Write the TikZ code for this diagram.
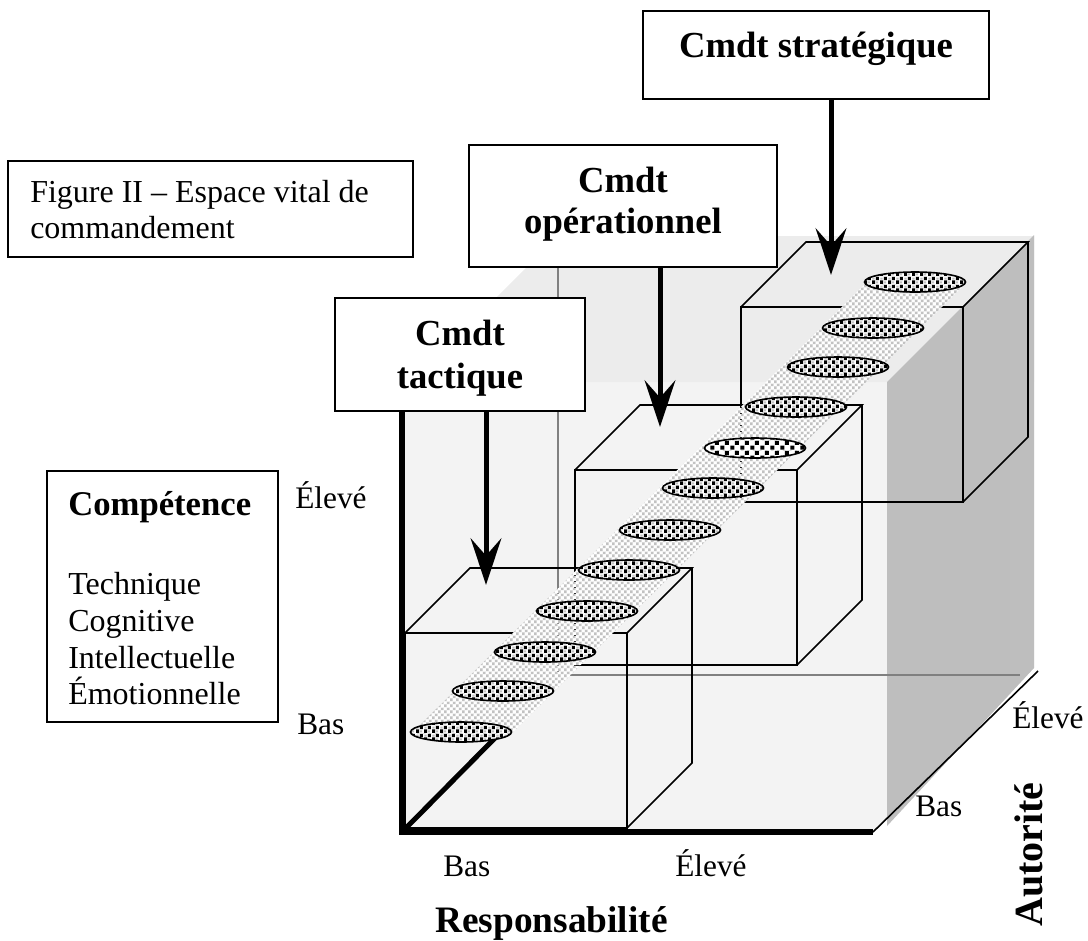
\documentclass[tikz,border=0pt]{standalone}
\usepackage{fontspec}
\setmainfont{Liberation Serif}
\usetikzlibrary{arrows.meta,patterns,shapes.geometric}

\definecolor{wallhi}{HTML}{ECECEC}
\definecolor{walllo}{HTML}{F3F3F3}
\definecolor{walldk}{HTML}{BEBEBE}
\definecolor{edgegray}{HTML}{808080}
\definecolor{dotgray}{HTML}{C2C2C2}

\pgfdeclarepatterninherentlycolored{bandpat}{\pgfpointorigin}{\pgfpoint{4.5pt}{4.5pt}}{\pgfpoint{4.5pt}{4.5pt}}{%
  \pgfsetfillcolor{white}%
  \pgfpathrectangle{\pgfpointorigin}{\pgfpoint{4.5pt}{4.5pt}}\pgfusepath{fill}%
  \pgfsetfillcolor{dotgray}%
  \pgfpathrectangle{\pgfpoint{0.2pt}{0.2pt}}{\pgfpoint{2pt}{2pt}}%
  \pgfpathrectangle{\pgfpoint{2.45pt}{2.45pt}}{\pgfpoint{2pt}{2pt}}%
  \pgfusepath{fill}}

\pgfdeclarepatterninherentlycolored{ellpat}{\pgfpointorigin}{\pgfpoint{6pt}{6pt}}{\pgfpoint{6pt}{6pt}}{%
  \pgfsetfillcolor{white}%
  \pgfpathrectangle{\pgfpointorigin}{\pgfpoint{6pt}{6pt}}\pgfusepath{fill}%
  \pgfsetfillcolor{dotgray}%
  \pgfpathrectangle{\pgfpoint{3.4pt}{0.5pt}}{\pgfpoint{1.7pt}{1.7pt}}%
  \pgfpathrectangle{\pgfpoint{0.4pt}{3.5pt}}{\pgfpoint{1.7pt}{1.7pt}}%
  \pgfusepath{fill}%
  \pgfsetfillcolor{black}%
  \pgfpathrectangle{\pgfpoint{0.2pt}{0.1pt}}{\pgfpoint{2.5pt}{2.8pt}}%
  \pgfpathrectangle{\pgfpoint{3.2pt}{3.1pt}}{\pgfpoint{2.5pt}{2.8pt}}%
  \pgfusepath{fill}}

\pgfdeclarepatterninherentlycolored{ellpatb}{\pgfpointorigin}{\pgfpoint{7.5pt}{7.5pt}}{\pgfpoint{7.5pt}{7.5pt}}{%
  \pgfsetfillcolor{white}%
  \pgfpathrectangle{\pgfpointorigin}{\pgfpoint{7.5pt}{7.5pt}}\pgfusepath{fill}%
  \pgfsetfillcolor{black}%
  \pgfpathrectangle{\pgfpoint{0.3pt}{0.3pt}}{\pgfpoint{3.2pt}{3.2pt}}%
  \pgfpathrectangle{\pgfpoint{4.05pt}{4.05pt}}{\pgfpoint{3.2pt}{3.2pt}}%
  \pgfusepath{fill}}

\newcommand\mycube[2]{%
  \draw[cubeline] (#1,#2) rectangle (#1+222,#2+195);
  \draw[cubeline] (#1,#2) -- (#1+65,#2-65) -- (#1+287,#2-65) -- (#1+222,#2);
  \draw[cubeline] (#1+287,#2-65) -- (#1+287,#2+130) -- (#1+222,#2+195);
}

\begin{document}
\begin{tikzpicture}[x=0.75pt,y=-0.75pt,
  box/.style={draw, fill=white, line width=1.2pt, inner sep=0pt, outer sep=0pt, rectangle},
  bt/.style={inner sep=0pt, font=\fontsize{27.5pt}{33pt}\selectfont\bfseries},
  cb/.style={inner sep=0pt, font=\fontsize{26pt}{31pt}\selectfont\bfseries},
  lab/.style={inner sep=0pt, font=\fontsize{23.5pt}{28pt}\selectfont},
  txt/.style={inner sep=0pt, font=\fontsize{24pt}{29pt}\selectfont},
  cubeline/.style={line width=1.2pt, line join=miter},
  greyedge/.style={draw=edgegray, line width=1.1pt},
  arr/.style={line width=3.75pt, -{Stealth[length=35pt, width=23pt, inset=13pt]}},
  ell/.style={ellipse, draw, line width=1.2pt, minimum width=75.75pt, minimum height=15pt, inner sep=0pt, pattern=ellpat},
]
\useasboundingbox (0,0) rectangle (1088,940);

% --- room background ---
\fill[walllo] (402,392) -- (558,236) -- (1034,236) -- (1034,668) -- (873,832) -- (402,832) -- cycle;
\fill[wallhi] (412,382) -- (558,236) -- (1034,236) -- (1034,382) -- cycle;
\fill[walldk] (887,382) -- (1034,235) -- (1034,668) -- (887,826) -- cycle;
\draw[greyedge] (558,236) -- (558,675) -- (1020,675);

% --- cubes ---
\mycube{405}{633}
\mycube{575}{470}
\mycube{741}{307}

% --- band ---
\fill[pattern=bandpat] (411,734) -- (511,734) -- (965,284) -- (865,284) -- cycle;

% --- axes ---
\coordinate (O) at (402,832);
\coordinate (Rb) at (873,832);
\coordinate (Dr) at (1038,671);
\coordinate (dgEnd) at (495,738);
\draw[line width=3.75pt] (O) -- (dgEnd);

% --- ellipses ---
\node[ell] (e1) at (915,282) {};
\node[ell] (e2) at (873,328) {};
\node[ell] (e3) at (838,367) {};
\node[ell] (e4) at (796,407) {};
\node[ell, pattern=ellpatb] (e5) at (755,448) {};
\node[ell] (e6) at (713,488) {};
\node[ell] (e7) at (670,530) {};
\node[ell] (e8) at (629,570) {};
\node[ell] (e9) at (587,611) {};
\node[ell] (e10) at (545,652) {};
\node[ell] (e11) at (503,691) {};
\node[ell] (e12) at (461,732) {};

% --- boxes ---
\node[box, minimum width=259.5pt, minimum height=66pt] (strat) at (816,55) {};
\node[box, minimum width=231pt, minimum height=91.5pt] (op) at (623,206) {};
\node[box, minimum width=187.5pt, minimum height=84.75pt] (tact) at (460,354.5) {};
\node[box, minimum width=303.75pt, minimum height=72pt] (fig) at (210.5,209) {};
\node[box, minimum width=173.25pt, minimum height=188.25pt] (comp) at (162.5,596.5) {};

\draw[line width=4.5pt, line join=miter] (O |- tact.south) -- (O) -- (Rb);
\draw[line width=1.2pt] (Rb) -- (Dr);

% --- arrows ---
\coordinate (tS) at (831,275);
\coordinate (tO) at (660,427);
\coordinate (tT) at (486,585);
\draw[arr] (strat.south -| tS) -- (tS);
\draw[arr] (op.south -| tO) -- (tO);
\draw[arr] (tact.south -| tT) -- (tT);

% --- texts ---
\node[bt, anchor=base] (stratT) at (816,57) {Cmdt stratégique};
\node[bt, anchor=base] (opT1) at (623,192) {Cmdt};
\node[bt, anchor=base] (opT2) at (623,233) {opérationnel};
\node[bt, anchor=base] (taT1) at (460,345) {Cmdt};
\node[bt, anchor=base] (taT2) at (460,388) {tactique};

\node[txt, anchor=base west] (figT1) at (30,202) {Figure II – Espace vital de};
\node[txt, anchor=base west] (figT2) at (30,238) {commandement};

\node[cb, anchor=base west] (compT) at (68,515) {Compétence};
\node[txt, anchor=base west] (c1) at (68,594) {Technique};
\node[txt, anchor=base west] (c2) at (68,631) {Cognitive};
\node[txt, anchor=base west] (c3) at (68,668) {Intellectuelle};
\node[txt, anchor=base west] (c4) at (68,704) {Émotionnelle};

\node[lab, anchor=base west] (elevL) at (295,508) {Élevé};
\node[lab, anchor=base west] (basL) at (297,734) {Bas};
\node[lab, anchor=base west] (basB) at (443,876) {Bas};
\node[lab, anchor=base west] (elevB) at (675,876) {Élevé};
\node[bt, font=\fontsize{28pt}{33pt}\selectfont\bfseries, anchor=base west] (resp) at (435,932) {Responsabilité};
\node[lab, anchor=base west] (elevR) at (1012,728) {Élevé};
\node[lab, anchor=base west] (basR) at (915,816) {Bas};
\node[bt, font=\fontsize{30pt}{35pt}\selectfont\bfseries, rotate=90, anchor=base west] (auto) at (1042,927) {Autorité};
\end{tikzpicture}
\end{document}
